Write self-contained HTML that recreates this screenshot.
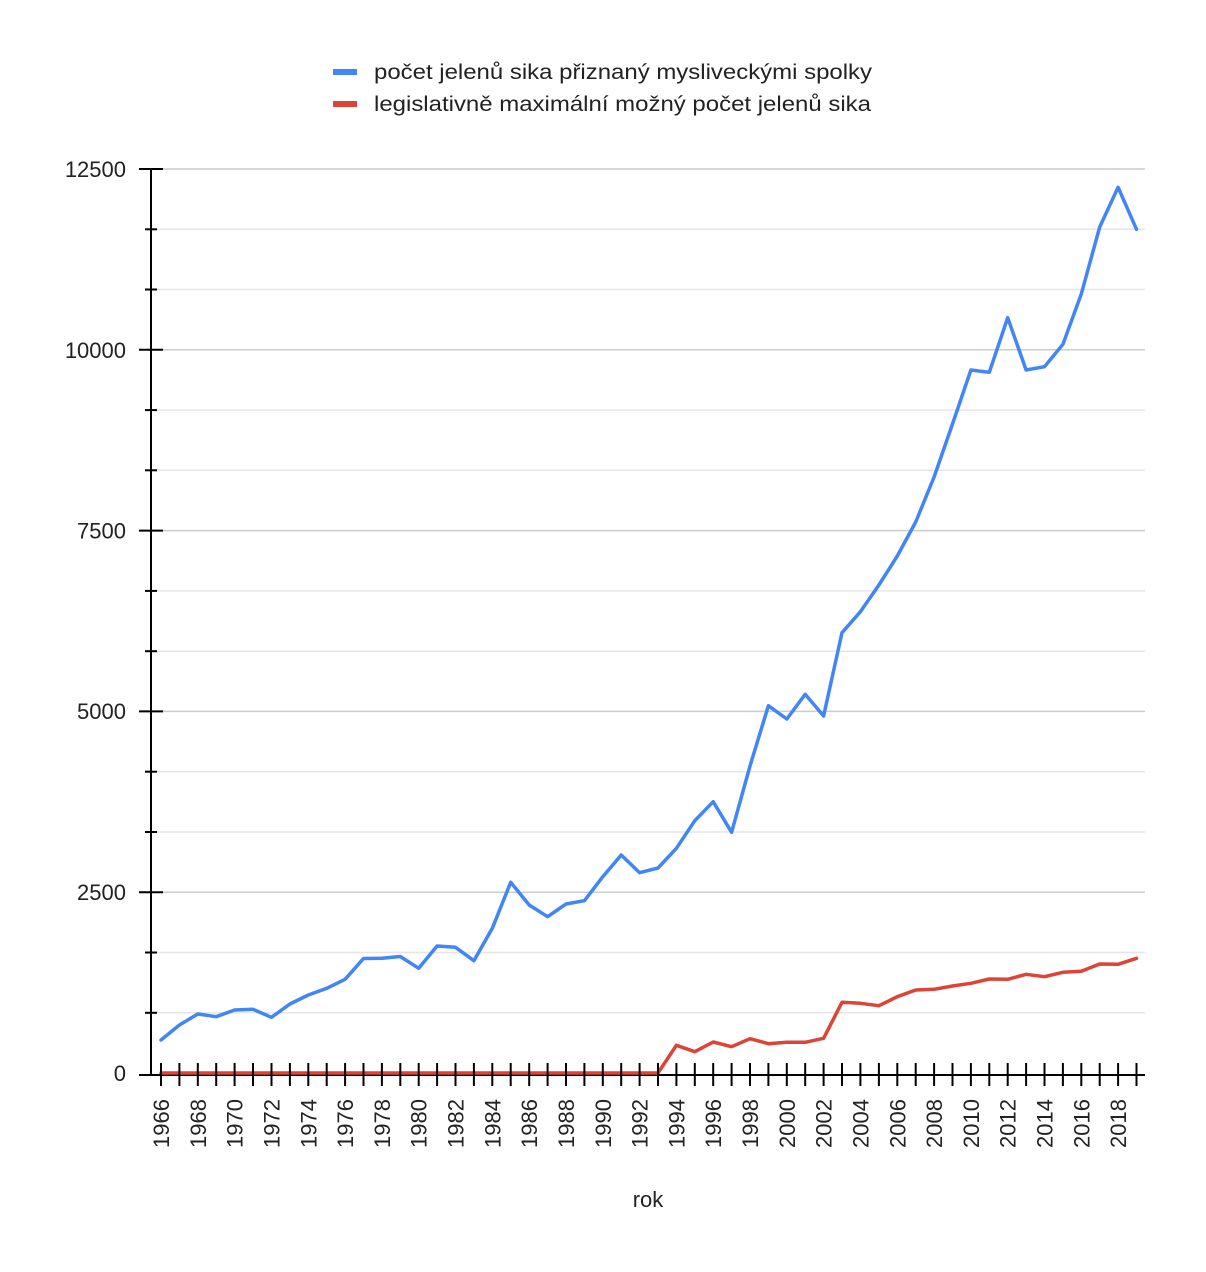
<!DOCTYPE html>
<html>
<head>
<meta charset="utf-8">
<style>
  html, body { margin:0; padding:0; background:#ffffff; }
  svg { display:block; }
  text { font-family: "Liberation Sans", Arial, sans-serif; fill:#222222; }
</style>
</head>
<body>
<svg width="1206" height="1272" viewBox="0 0 1206 1272" xmlns="http://www.w3.org/2000/svg">
  <rect x="0" y="0" width="1206" height="1272" fill="#ffffff"/>

  <rect x="333" y="69" width="24" height="6" fill="#4285f4"/>
  <text x="374" y="79" font-size="21" textLength="498" lengthAdjust="spacingAndGlyphs">počet jelenů sika přiznaný mysliveckými spolky</text>
  <rect x="333" y="101" width="24" height="6" fill="#db4437"/>
  <text x="374" y="111" font-size="21" textLength="497" lengthAdjust="spacingAndGlyphs">legislativně maximální možný počet jelenů sika</text>

  <g stroke-width="1.5">
    <line x1="152" y1="169" x2="1145" y2="169" stroke="#cccccc"/>
    <line x1="152" y1="229.3" x2="1145" y2="229.3" stroke="#e6e6e6"/>
    <line x1="152" y1="289.5" x2="1145" y2="289.5" stroke="#e6e6e6"/>
    <line x1="152" y1="349.8" x2="1145" y2="349.8" stroke="#cccccc"/>
    <line x1="152" y1="410.1" x2="1145" y2="410.1" stroke="#e6e6e6"/>
    <line x1="152" y1="470.3" x2="1145" y2="470.3" stroke="#e6e6e6"/>
    <line x1="152" y1="530.6" x2="1145" y2="530.6" stroke="#cccccc"/>
    <line x1="152" y1="590.9" x2="1145" y2="590.9" stroke="#e6e6e6"/>
    <line x1="152" y1="651.2" x2="1145" y2="651.2" stroke="#e6e6e6"/>
    <line x1="152" y1="711.4" x2="1145" y2="711.4" stroke="#cccccc"/>
    <line x1="152" y1="771.7" x2="1145" y2="771.7" stroke="#e6e6e6"/>
    <line x1="152" y1="832" x2="1145" y2="832" stroke="#e6e6e6"/>
    <line x1="152" y1="892.2" x2="1145" y2="892.2" stroke="#cccccc"/>
    <line x1="152" y1="952.5" x2="1145" y2="952.5" stroke="#e6e6e6"/>
    <line x1="152" y1="1012.8" x2="1145" y2="1012.8" stroke="#e6e6e6"/>
  </g>

  <g font-size="22" text-anchor="end">
    <text x="126" y="177">12500</text>
    <text x="126" y="358">10000</text>
    <text x="126" y="538.5">7500</text>
    <text x="126" y="719">5000</text>
    <text x="126" y="900">2500</text>
    <text x="126" y="1081">0</text>
  </g>

  <g stroke="#000000" stroke-width="2">
    <line x1="151" y1="168" x2="151" y2="1075"/>
    <line x1="139" y1="169" x2="163" y2="169"/>
    <line x1="145" y1="229.3" x2="157" y2="229.3"/>
    <line x1="145" y1="289.5" x2="157" y2="289.5"/>
    <line x1="139" y1="349.8" x2="163" y2="349.8"/>
    <line x1="145" y1="410.1" x2="157" y2="410.1"/>
    <line x1="145" y1="470.3" x2="157" y2="470.3"/>
    <line x1="139" y1="530.6" x2="163" y2="530.6"/>
    <line x1="145" y1="590.9" x2="157" y2="590.9"/>
    <line x1="145" y1="651.2" x2="157" y2="651.2"/>
    <line x1="139" y1="711.4" x2="163" y2="711.4"/>
    <line x1="145" y1="771.7" x2="157" y2="771.7"/>
    <line x1="145" y1="832" x2="157" y2="832"/>
    <line x1="139" y1="892.2" x2="163" y2="892.2"/>
    <line x1="145" y1="952.5" x2="157" y2="952.5"/>
    <line x1="145" y1="1012.8" x2="157" y2="1012.8"/>
    <line x1="139" y1="1075" x2="1145" y2="1075"/>
  </g>

  <polyline fill="none" stroke="#4285f4" stroke-width="3.5" stroke-linejoin="round" stroke-linecap="round"
    points="161,1040 179.4,1025 197.8,1014 216.2,1016.7 234.6,1010 253,1009.3 271.5,1017.3 289.9,1004 308.3,995 326.7,988.3 345.1,979.3 363.5,958.5 381.9,958.3 400.3,956.5 418.7,968.3 437.1,946 455.5,947.3 473.9,960.7 492.3,928.3 510.7,882.3 529.2,905 547.6,916.7 566,904 584.4,900.7 602.8,876.7 621.2,855 639.6,872.7 658,868 676.4,848.3 694.8,820.7 713.2,801.7 731.6,832.3 750,766 768.4,705.7 786.8,719 805.2,694.3 823.6,716 842,632.7 860.4,611.7 878.9,585 897.3,556 915.7,522 934.1,477 952.5,424 970.9,370 989.3,372.3 1007.7,317.7 1026.1,370 1044.5,366.7 1062.9,344.3 1081.3,294 1099.7,227 1118.1,187.3 1136.5,229.3"/>
  <polyline fill="none" stroke="#db4437" stroke-width="3.5" stroke-linejoin="round" stroke-linecap="round"
    points="161,1073 658,1073 676.4,1045.3 694.8,1051.7 713.2,1042 731.6,1046.7 750,1038.7 768.4,1043.7 786.8,1042.3 805.2,1042.3 823.6,1038.3 842,1002.3 860.4,1003.3 878.9,1005.7 897.3,996.7 915.7,990 934.1,989.3 952.5,986 970.9,983.3 989.3,979 1007.7,979.3 1026.1,974.3 1044.5,976.7 1062.9,972.3 1081.3,971.3 1099.7,964 1118.1,964.3 1136.5,958.3"/>

  <path stroke="#000000" stroke-width="2" fill="none" d="M161 1063v23M179.4 1063v23M197.8 1063v23M216.2 1063v23M234.6 1063v23M253 1063v23M271.5 1063v23M289.9 1063v23M308.3 1063v23M326.7 1063v23M345.1 1063v23M363.5 1063v23M381.9 1063v23M400.3 1063v23M418.7 1063v23M437.1 1063v23M455.5 1063v23M473.9 1063v23M492.3 1063v23M510.7 1063v23M529.2 1063v23M547.6 1063v23M566 1063v23M584.4 1063v23M602.8 1063v23M621.2 1063v23M639.6 1063v23M658 1063v23M676.4 1063v23M694.8 1063v23M713.2 1063v23M731.6 1063v23M750 1063v23M768.4 1063v23M786.8 1063v23M805.2 1063v23M823.6 1063v23M842 1063v23M860.4 1063v23M878.9 1063v23M897.3 1063v23M915.7 1063v23M934.1 1063v23M952.5 1063v23M970.9 1063v23M989.3 1063v23M1007.7 1063v23M1026.1 1063v23M1044.5 1063v23M1062.9 1063v23M1081.3 1063v23M1099.7 1063v23M1118.1 1063v23M1136.5 1063v23"/>

  <g font-size="22" text-anchor="end">
    <text transform="translate(169,1099) rotate(-90)">1966</text>
    <text transform="translate(205.8,1099) rotate(-90)">1968</text>
    <text transform="translate(242.6,1099) rotate(-90)">1970</text>
    <text transform="translate(279.5,1099) rotate(-90)">1972</text>
    <text transform="translate(316.3,1099) rotate(-90)">1974</text>
    <text transform="translate(353.1,1099) rotate(-90)">1976</text>
    <text transform="translate(389.9,1099) rotate(-90)">1978</text>
    <text transform="translate(426.7,1099) rotate(-90)">1980</text>
    <text transform="translate(463.5,1099) rotate(-90)">1982</text>
    <text transform="translate(500.3,1099) rotate(-90)">1984</text>
    <text transform="translate(537.2,1099) rotate(-90)">1986</text>
    <text transform="translate(574,1099) rotate(-90)">1988</text>
    <text transform="translate(610.8,1099) rotate(-90)">1990</text>
    <text transform="translate(647.6,1099) rotate(-90)">1992</text>
    <text transform="translate(684.4,1099) rotate(-90)">1994</text>
    <text transform="translate(721.2,1099) rotate(-90)">1996</text>
    <text transform="translate(758,1099) rotate(-90)">1998</text>
    <text transform="translate(794.8,1099) rotate(-90)">2000</text>
    <text transform="translate(831.6,1099) rotate(-90)">2002</text>
    <text transform="translate(868.4,1099) rotate(-90)">2004</text>
    <text transform="translate(905.3,1099) rotate(-90)">2006</text>
    <text transform="translate(942.1,1099) rotate(-90)">2008</text>
    <text transform="translate(978.9,1099) rotate(-90)">2010</text>
    <text transform="translate(1015.7,1099) rotate(-90)">2012</text>
    <text transform="translate(1052.5,1099) rotate(-90)">2014</text>
    <text transform="translate(1089.3,1099) rotate(-90)">2016</text>
    <text transform="translate(1126.1,1099) rotate(-90)">2018</text>
  </g>

  <text x="648" y="1207" font-size="22" text-anchor="middle">rok</text>
</svg>
</body>
</html>
